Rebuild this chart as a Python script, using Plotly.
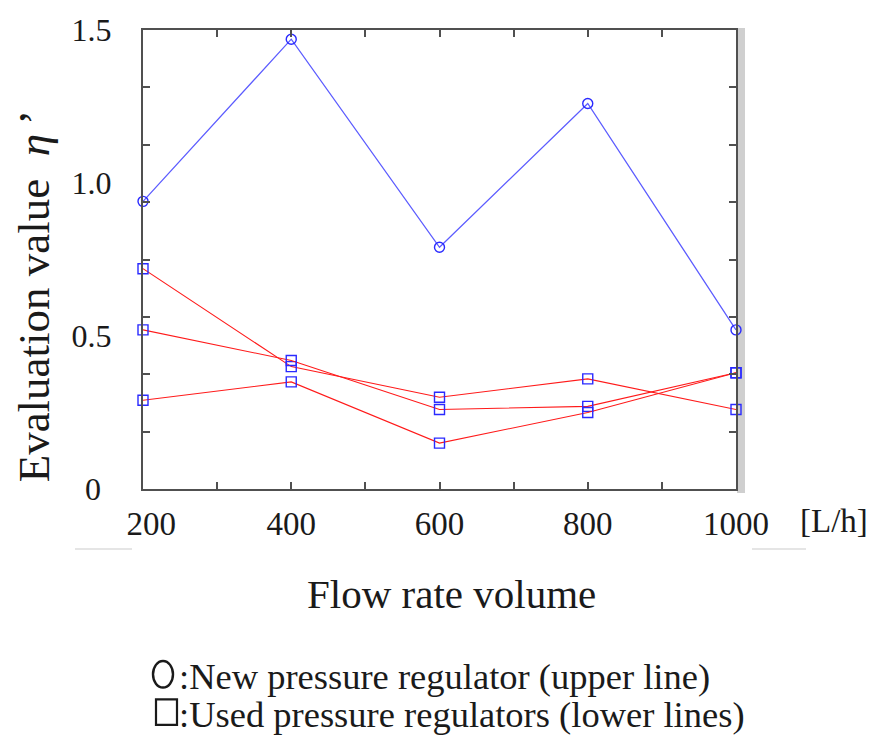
import plotly.graph_objects as go

# ---- data ----
flow = [200, 400, 600, 800, 1000]
new_regulator = [0.94, 1.47, 0.79, 1.26, 0.52]
used_a = [0.72, 0.40, 0.30, 0.36, 0.26]
used_b = [0.52, 0.42, 0.26, 0.27, 0.38]
used_c = [0.29, 0.35, 0.15, 0.25, 0.38]

x_tickvals = [200, 300, 400, 500, 600, 700, 800, 900, 1000]
x_ticktext = ["\u2002200", "", "400", "", "600", "", "800", "", "1000"]
y_tickvals = [0, 0.5, 1.0, 1.5]
y_ticktext = ["0\u2004", "0.5", "1.0", "1.5"]

W, H = 876, 742
L, R, T, B = 143, 736, 22, 489
FONT = "Liberation Serif, Times New Roman, serif"


def px(x):
    return (x - L) / (R - L)


def py(y):
    return (B - y) / (B - T)


fig = go.Figure()

for series in (used_a, used_b, used_c):
    fig.add_trace(go.Scatter(
        x=flow, y=series, mode="lines+markers",
        line=dict(color="#ff1a1a", width=1.1),
        marker=dict(symbol="square-open", size=10, color="#2a2aff",
                    line=dict(width=1.4, color="#2a2aff")),
        cliponaxis=False, showlegend=False))

fig.add_trace(go.Scatter(
    x=flow, y=new_regulator, mode="lines+markers",
    line=dict(color="#5c5cff", width=1.3),
    marker=dict(symbol="circle-open", size=10, color="#2a2aff",
                line=dict(width=1.4, color="#2a2aff")),
    cliponaxis=False, showlegend=False))

axis_col = "#505050"
fig.update_xaxes(
    range=[200, 1000], tickmode="array", tickvals=x_tickvals, ticktext=x_ticktext,
    ticks="inside", ticklen=7, tickwidth=1.5, tickcolor=axis_col,
    showline=True, linecolor=axis_col, linewidth=2, mirror="ticks",
    showgrid=False, zeroline=False, ticklabelstandoff=4,
    tickfont=dict(family=FONT, size=33, color="#1a1a1a"))

minor_y = [1.5 * i / 8 for i in range(1, 8)]
fig.update_yaxes(
    range=[0, 1.5], tickmode="array", tickvals=y_tickvals, ticktext=y_ticktext,
    ticks="", showline=True, linecolor=axis_col, linewidth=2, mirror="ticks",
    minor=dict(tickmode="array", tickvals=minor_y, ticks="inside", ticklen=7,
               tickwidth=1.5, tickcolor=axis_col, showgrid=False),
    showgrid=False, zeroline=False, ticklabelstandoff=23,
    tickfont=dict(family=FONT, size=32, color="#1a1a1a"))

shapes = [
    # grey shadow on the right edge of the frame
    dict(type="rect", xref="paper", yref="paper", x0=px(737), x1=px(745),
         y0=py(493), y1=py(20), fillcolor="#cfcfcf", line=dict(width=0), layer="below"),
    # faint scan lines
    dict(type="line", xref="paper", yref="paper", x0=px(75), x1=px(132),
         y0=py(550), y1=py(550), line=dict(color="#dcdcdc", width=1.5)),
    dict(type="line", xref="paper", yref="paper", x0=px(752), x1=px(806),
         y0=py(550), y1=py(550), line=dict(color="#dcdcdc", width=1.5)),
    # legend symbols
    dict(type="circle", xref="paper", yref="paper", x0=px(153), x1=px(173),
         y0=py(691), y1=py(664), line=dict(color="#1a1a1a", width=2.4)),
    dict(type="rect", xref="paper", yref="paper", x0=px(156), x1=px(177),
         y0=py(729), y1=py(703), line=dict(color="#1a1a1a", width=2.2)),
]

annotations = [
    dict(text="Evaluation value\u2002<i>η</i>\u2009’", x=px(34), y=py(293), xref="paper",
         yref="paper", textangle=-90, showarrow=False, xanchor="center", yanchor="middle",
         font=dict(family=FONT, size=45, color="#1a1a1a")),
    dict(text="Flow rate volume", x=px(451), y=py(596), xref="paper", yref="paper",
         showarrow=False, xanchor="center", yanchor="middle",
         font=dict(family=FONT, size=41, color="#1a1a1a")),
    dict(text="[L/h]", x=px(798), y=py(522), xref="paper", yref="paper",
         showarrow=False, xanchor="left", yanchor="middle",
         font=dict(family=FONT, size=33, color="#1a1a1a")),
    dict(text=":New pressure regulator (upper line)", x=px(177), y=py(680), xref="paper",
         yref="paper", showarrow=False, xanchor="left", yanchor="middle",
         font=dict(family=FONT, size=36.5, color="#1a1a1a")),
    dict(text=":Used pressure regulators (lower lines)", x=px(177), y=py(718), xref="paper",
         yref="paper", showarrow=False, xanchor="left", yanchor="middle",
         font=dict(family=FONT, size=36.5, color="#1a1a1a")),
]

fig.update_layout(
    width=W, height=H, margin=dict(l=L, r=W - R, t=T, b=H - B, pad=0),
    paper_bgcolor="white", plot_bgcolor="white",
    shapes=shapes, annotations=annotations, showlegend=False)

fig.write_html("out.html")
